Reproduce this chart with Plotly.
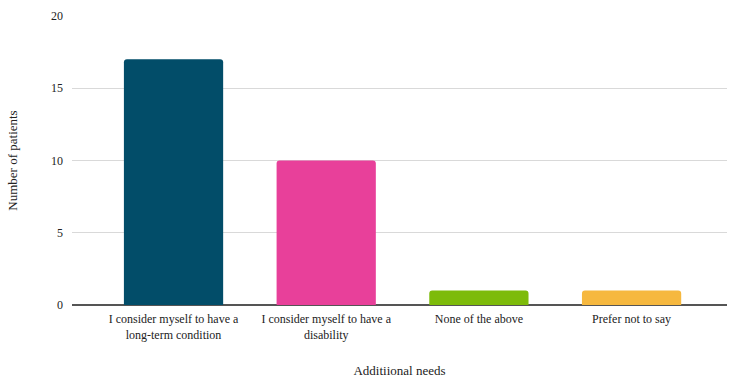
import plotly.graph_objects as go

# Survey responses on additional needs
categories = [
    "I consider myself to have a<br>long-term condition",
    "I consider myself to have a<br>disability",
    "None of the above",
    "Prefer not to say",
]
patients = [17, 10, 1, 1]
bar_colors = ["#024D69", "#E8409A", "#7DBB0A", "#F6B83F"]
y_ticks = [0, 5, 10, 15, 20]

font_family = "Liberation Serif"

fig = go.Figure(
    go.Bar(
        x=list(range(len(categories))),
        y=patients,
        marker=dict(color=bar_colors, line=dict(width=0), cornerradius=3),
        width=0.65,
    )
)

fig.update_layout(
    width=729,
    height=380,
    margin=dict(l=72, r=2, t=16, b=75),
    paper_bgcolor="white",
    plot_bgcolor="white",
    showlegend=False,
    font=dict(family=font_family, color="#222222", size=12),
)

fig.update_xaxes(
    tickmode="array",
    tickvals=list(range(len(categories))),
    ticktext=categories,
    range=[-0.665, 3.625],
    showgrid=False,
    showline=False,
    ticks="",
    ticklabelstandoff=5,
    tickfont=dict(family=font_family, size=12, color="#222222"),
    title=dict(text="Additiional needs", font=dict(family=font_family, size=13, color="#222222"), standoff=25),
)

fig.update_yaxes(
    range=[0, 20],
    tickmode="array",
    tickvals=y_ticks,
    showgrid=True,
    gridcolor="#D9D9D9",
    gridwidth=1,
    zeroline=True,
    zerolinecolor="#555555",
    zerolinewidth=1.5,
    ticks="",
    ticklabelstandoff=8,
    tickfont=dict(family=font_family, size=12, color="#222222"),
    title=dict(text="Number of patients", font=dict(family=font_family, size=13, color="#222222"), standoff=30),
)

fig.write_html("out.html")
